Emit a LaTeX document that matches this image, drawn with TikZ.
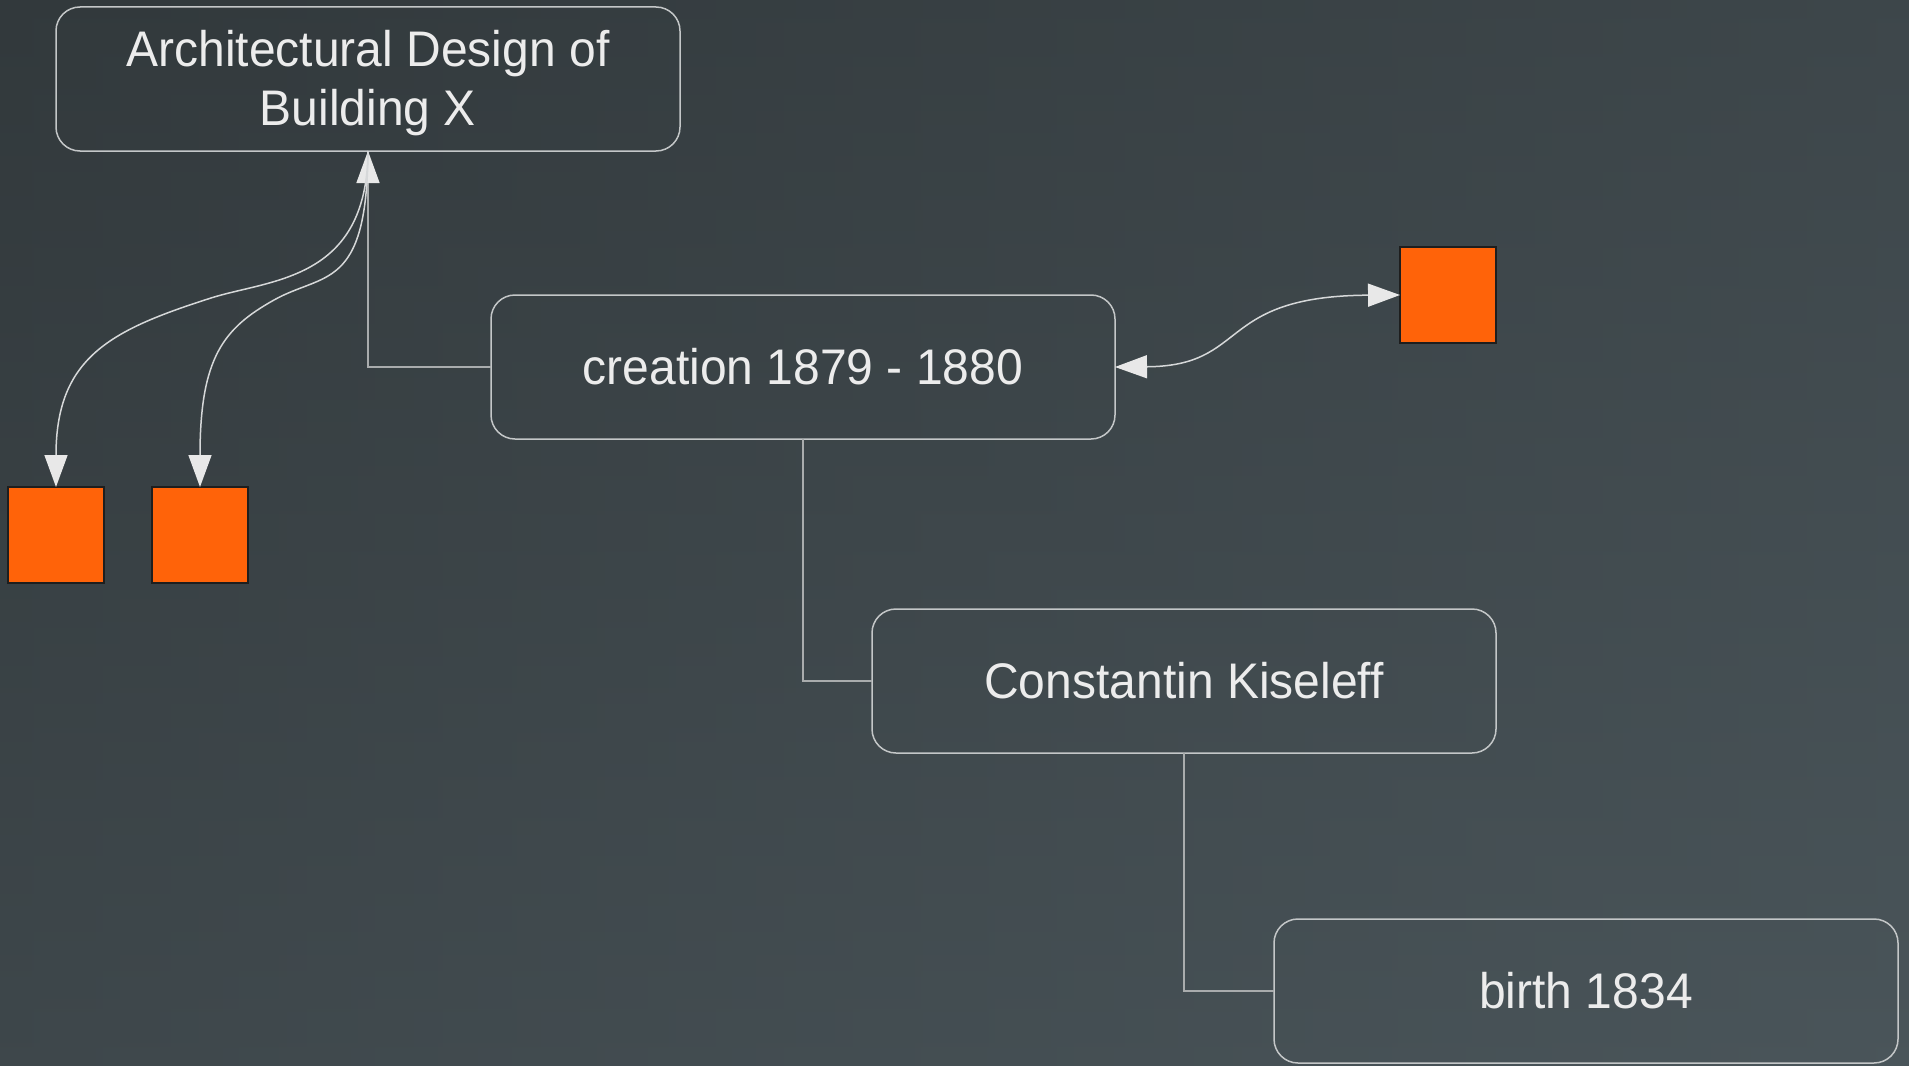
\documentclass[tikz,border=0pt]{standalone}
\usepackage{fontspec}
\setmainfont{Liberation Sans}[FakeStretch=0.96]
\usetikzlibrary{arrows.meta}

\definecolor{bgdark}{HTML}{32393C}
\definecolor{bglight}{HTML}{4A555A}
\definecolor{boxline}{HTML}{C4C7C8}
\definecolor{linkline}{HTML}{A9ACAD}
\definecolor{curveline}{HTML}{D6D8D9}
\definecolor{tipfill}{HTML}{E8E8E8}
\definecolor{labeltext}{HTML}{ECECEC}
\definecolor{orangefill}{HTML}{FF6309}
\definecolor{orangeedge}{HTML}{1E1E1E}

\begin{document}
\begin{tikzpicture}[x=0.5pt,y=-0.5pt,
  topic/.style={draw=boxline, line width=0.75pt, rounded corners=12pt,
    minimum width=312pt, minimum height=72pt, inner sep=0pt, outer sep=0pt,
    text=labeltext, font=\fontsize{25}{29.5}\selectfont, align=center},
  orangebox/.style={draw=orangeedge, fill=orangefill, line width=0.75pt,
    minimum size=48pt, inner sep=0pt, outer sep=0pt},
  bigtip/.tip={Triangle[length=16pt, width=11.5pt, color=tipfill, fill=tipfill]},
  elbow/.style={draw=linkline, line width=0.75pt},
  curvelink/.style={draw=curveline, line width=0.75pt},
]
% background: diagonal gradient from top left to bottom right
\useasboundingbox (0,0) rectangle (1909,1065);
\shade[left color=bgdark, right color=bglight] (0,0) rectangle (1909,1065);
\shade[top color=bgdark, bottom color=bglight, opacity=0.5] (0,0) rectangle (1909,1065);

% topics
\node[topic] (arch) at (368,79) {\rule{0pt}{22pt}Architectural Design of\\Building X};
\node[topic] (creation) at (803,367) {creation 1879 - 1880};
\node[topic] (kiseleff) at (1184,681) {Constantin Kiseleff};
\node[topic] (birth) at (1586,991) {birth 1834};

% orange markers
\node[orangebox] (mleft) at (56,535) {};
\node[orangebox] (mmid) at (200,535) {};
\node[orangebox] (mright) at (1448,295) {};

% tree connectors
\draw[elbow, -bigtip] (creation.west) -- (arch.south |- creation.west) -- (arch.south);
\draw[elbow] (creation.south) -- (creation.south |- kiseleff.west) -- (kiseleff.west);
\draw[elbow] (kiseleff.south) -- (kiseleff.south |- birth.west) -- (birth.west);

% relationship curves
\draw[curvelink, -bigtip] (arch.south) .. controls (367,281) and (271,279) .. (211,298)
  .. controls (111,330) and (56,357) .. (mleft.north);
\draw[curvelink, -bigtip] (arch.south) .. controls (367,291) and (324,272) .. (274,300)
  .. controls (224,328) and (200,357) .. (mmid.north);
\draw[curvelink, bigtip-bigtip] (creation.east) .. controls (1250,366) and (1215,296) .. (mright.west);
\end{tikzpicture}
\end{document}
